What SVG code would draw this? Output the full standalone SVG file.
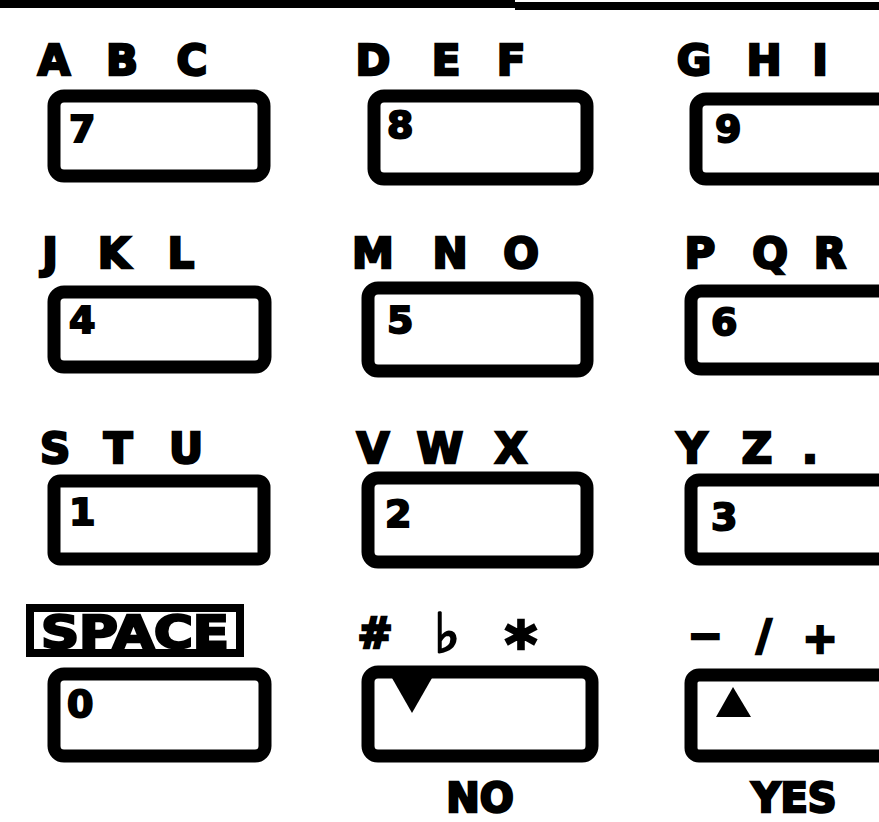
<svg xmlns="http://www.w3.org/2000/svg" width="879" height="822" viewBox="0 0 879 822">
<style>
.key{fill:#fff;stroke:#000;stroke-width:13}
.lbl{font-family:"DejaVu Sans","Liberation Sans",sans-serif;font-weight:bold;font-size:42px;fill:#000;stroke:#000;stroke-width:2.5;text-anchor:middle}
.dig{font-family:"DejaVu Sans","Liberation Sans",sans-serif;font-weight:bold;font-size:38px;fill:#000;stroke:#000;stroke-width:2}
.cap{font-family:"DejaVu Sans","Liberation Sans",sans-serif;font-weight:bold;font-size:40px;fill:#000;stroke:#000;stroke-width:2.5;text-anchor:middle}
</style>
<rect width="879" height="822" fill="#fff"/>
<g id="topbar"><rect x="0" y="0" width="515" height="8" fill="#000"/><rect x="515" y="2" width="364" height="8" fill="#000"/></g>

<g id="key7"><text class="lbl" x="54" y="75">A</text><text class="lbl" x="122" y="75">B</text><text class="lbl" x="192" y="75">C</text><rect class="key" x="54" y="96" width="210" height="80" rx="10"/><text class="dig" x="69" y="142">7</text></g>
<g id="key8"><text class="lbl" x="373" y="75">D</text><text class="lbl" x="446" y="75">E</text><text class="lbl" x="511" y="75">F</text><rect class="key" x="374" y="96" width="213" height="83" rx="10"/><text class="dig" x="387" y="138">8</text></g>
<g id="key9"><text class="lbl" x="694" y="75">G</text><text class="lbl" x="764" y="75">H</text><text class="lbl" x="820" y="75">I</text><rect class="key" x="696" y="99" width="200" height="80" rx="10"/><text class="dig" x="715" y="142">9</text></g>

<g id="key4"><text class="lbl" x="50" y="268">J</text><text class="lbl" x="114" y="268">K</text><text class="lbl" x="181" y="268">L</text><rect class="key" x="54" y="292" width="211" height="75" rx="10"/><text class="dig" x="69" y="333">4</text></g>
<g id="key5"><text class="lbl" x="373" y="268">M</text><text class="lbl" x="450" y="268">N</text><text class="lbl" x="521" y="268">O</text><rect class="key" x="368" y="288" width="219" height="83" rx="10"/><text class="dig" x="387" y="333">5</text></g>
<g id="key6"><text class="lbl" x="700" y="268">P</text><text class="lbl" x="770" y="268">Q</text><text class="lbl" x="830" y="268">R</text><rect class="key" x="691" y="291" width="200" height="78" rx="10"/><text class="dig" x="711" y="335">6</text></g>

<g id="key1"><text class="lbl" x="55" y="463">S</text><text class="lbl" x="118" y="463">T</text><text class="lbl" x="186" y="463">U</text><rect class="key" x="54" y="481" width="210" height="78" rx="6"/><text class="dig" x="69" y="525">1</text></g>
<g id="key2"><text class="lbl" x="373" y="463">V</text><text class="lbl" x="440" y="463">W</text><text class="lbl" x="511" y="463">X</text><rect class="key" x="368" y="478" width="219" height="84" rx="10"/><text class="dig" x="385" y="527">2</text></g>
<g id="key3"><text class="lbl" x="692" y="463">Y</text><text class="lbl" x="757" y="463">Z</text><text class="lbl" x="810" y="463">.</text><rect class="key" x="691" y="480" width="200" height="79" rx="8"/><text class="dig" x="711" y="530">3</text></g>

<g id="key0"><rect x="30" y="608" width="210" height="45" fill="#fff" stroke="#000" stroke-width="8"/><text class="cap" x="135" y="648" style="font-size:44px" textLength="188" lengthAdjust="spacingAndGlyphs">SPACE</text><rect class="key" x="54" y="674" width="211" height="82" rx="10"/><text class="dig" x="67" y="717">0</text></g>
<g id="keyNo"><text class="lbl" x="375" y="648">#</text><text class="lbl" x="447" y="652" style="font-size:54px;font-family:'DejaVu Sans',sans-serif">♭︎</text><text class="lbl" x="521" y="666" style="font-size:62px">*</text><rect class="key" x="368" y="672" width="224" height="84" rx="10"/><polygon points="392,678 432,678 412,713" fill="#000"/><text class="cap" x="480" y="812">NO</text></g>
<g id="keyYes"><text class="lbl" x="705" y="650">−</text><text class="lbl" x="764" y="650">/</text><text class="lbl" x="820" y="653">+</text><rect class="key" x="691" y="675" width="200" height="81" rx="8"/><polygon points="716,717 751,717 733,687" fill="#000"/><text class="cap" x="794" y="812">YES</text></g>
</svg>
